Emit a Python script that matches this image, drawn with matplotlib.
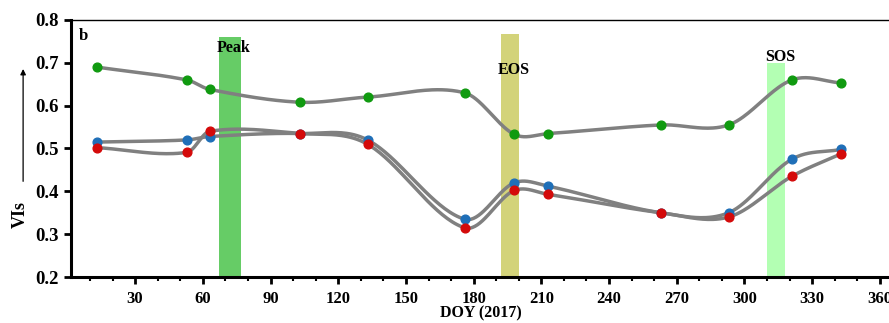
import numpy as np
import matplotlib.pyplot as plt
from matplotlib.ticker import MultipleLocator
from matplotlib.patches import FancyArrowPatch

plt.rcParams['font.family'] = ['Liberation Serif', 'DejaVu Serif']
plt.rcParams['font.weight'] = 'bold'

doy = [13, 53, 63, 103, 133, 176, 198, 213, 263, 293, 321, 343]
vi_green = [0.690, 0.660, 0.638, 0.608, 0.620, 0.630, 0.533, 0.535, 0.555, 0.555, 0.660, 0.653]
vi_blue = [0.515, 0.520, 0.528, 0.535, 0.520, 0.335, 0.420, 0.412, 0.350, 0.350, 0.475, 0.498]
vi_red = [0.502, 0.491, 0.540, 0.535, 0.510, 0.315, 0.402, 0.393, 0.350, 0.340, 0.435, 0.488]

# phenology bands: (label, start, end, top, colour)
bands = [('Peak', 67, 77, 0.761, '#66cc66'),
         ('EOS', 192, 200, 0.768, '#d3d37a'),
         ('SOS', 310, 318, 0.700, '#b3ffb3')]
band_text_y = {'Peak': 0.735, 'EOS': 0.683, 'SOS': 0.713}


def smooth(x, y, n=40):
    # cubic hermite through the points, catmull-rom style slopes
    x = np.asarray(x, float)
    y = np.asarray(y, float)
    m = np.zeros_like(y)
    m[1:-1] = (y[2:] - y[:-2]) / (x[2:] - x[:-2])
    m[0] = (y[1] - y[0]) / (x[1] - x[0])
    m[-1] = (y[-1] - y[-2]) / (x[-1] - x[-2])
    xs, ys = [], []
    for i in range(len(x) - 1):
        h = x[i + 1] - x[i]
        t = np.linspace(0, 1, n)
        h00 = 2 * t**3 - 3 * t**2 + 1
        h10 = t**3 - 2 * t**2 + t
        h01 = -2 * t**3 + 3 * t**2
        h11 = t**3 - t**2
        xs.append(x[i] + t * h)
        ys.append(h00 * y[i] + h10 * h * m[i] + h01 * y[i + 1] + h11 * h * m[i + 1])
    return np.concatenate(xs), np.concatenate(ys)


fig = plt.figure(figsize=(8.89, 3.23), dpi=100)
ax = fig.add_axes([0.0799, 0.1424, 0.9225, 0.7957])

for name, x0, x1, top, col in bands:
    ax.fill_between([x0, x1], 0.2, top, color=col, lw=0, zorder=1)
    ax.text((x0 + x1) / 2 + 1.8, band_text_y[name], name, ha='center', va='center',
            fontsize=11.5, fontweight='bold', zorder=5)

for vals in (vi_green, vi_blue, vi_red):
    sx, sy = smooth(doy, vals)
    ax.plot(sx, sy, color='#808080', lw=2.5, zorder=2, solid_capstyle='round')

ax.plot(doy, vi_green, 'o', color='#109a10', ms=6.3, zorder=3)
ax.plot(doy, vi_blue, 'o', color='#1f6fb8', ms=6.3, zorder=3)
ax.plot(doy, vi_red, 'o', color='#d40a0a', ms=6.3, zorder=4)

ax.set_xlim(1.6, 365)
ax.set_ylim(0.2, 0.8)
ax.xaxis.set_minor_locator(MultipleLocator(10))
ax.set_xticks(np.arange(30, 361, 30))
ax.set_xticklabels([str(v) for v in range(30, 361, 30)], fontsize=12, fontweight='bold')
ax.set_yticks(np.arange(0.2, 0.81, 0.1))
ax.set_yticklabels(['%.1f' % v for v in np.arange(0.2, 0.81, 0.1)], fontsize=13.5, fontweight='bold')
ax.tick_params(axis='both', which='major', direction='out', length=5, width=2)
ax.tick_params(axis='x', which='major', pad=5)
ax.tick_params(axis='y', which='major', pad=4)
ax.tick_params(axis='x', which='minor', direction='out', length=3, width=1.5)

ax.spines['left'].set_linewidth(2.2)
ax.spines['bottom'].set_linewidth(2.2)
ax.spines['top'].set_linewidth(1.0)
ax.spines['right'].set_visible(False)

ax.set_xlabel('DOY (2017)', fontsize=11.5, fontweight='bold', labelpad=-1)
ax.text(5, 0.763, 'b', fontsize=12, fontweight='bold', va='center')

# y label with arrow on the left
fig.text(0.023, 0.335, 'VIs', rotation=90, fontsize=13, fontweight='bold', ha='center', va='center')
fig.patches.append(FancyArrowPatch(
    (0.026, 0.43), (0.026, 0.795), transform=fig.transFigure,
    arrowstyle='-|>', mutation_scale=8, lw=0.9, color='black'))

fig.savefig('out.png', dpi=100)
